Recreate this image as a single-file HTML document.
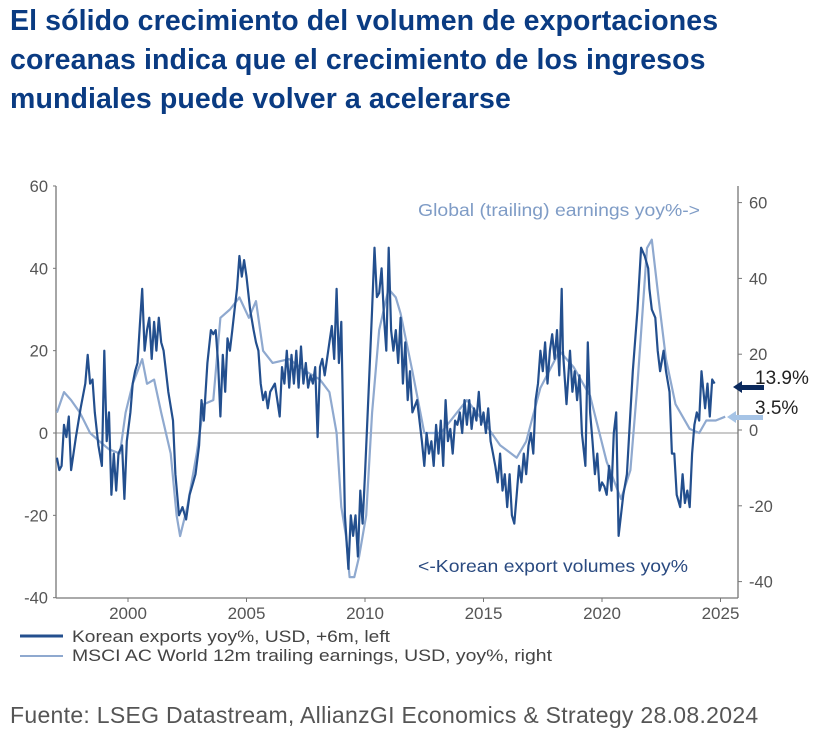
<!DOCTYPE html>
<html><head><meta charset="utf-8">
<style>
body{margin:0;background:#fff;width:837px;height:738px;overflow:hidden;font-family:"Liberation Sans",sans-serif;}
#title{position:absolute;left:10px;top:2px;font-size:28.5px;font-weight:bold;color:#0a3b82;line-height:39px;margin:0;letter-spacing:0.1px;}
#src{position:absolute;left:10px;top:702px;font-size:23px;color:#555;letter-spacing:0.3px;}
svg{position:absolute;left:0;top:0;}
</style></head><body>
<h1 id="title">El sólido crecimiento del volumen de exportaciones<br>coreanas indica que el crecimiento de los ingresos<br>mundiales puede volver a acelerarse</h1>
<div id="src">Fuente: LSEG Datastream, AllianzGI Economics &amp; Strategy 28.08.2024</div>
<svg id="chart" width="837" height="738"></svg>
<script>
const xTicks=[2000,2005,2010,2015,2020,2025];
const leftTicks=[60,40,20,0,-20,-40];
const rightTicks=[60,40,20,0,-20,-40];
const korDates=[1997.0,1997.1,1997.2,1997.3,1997.4,1997.5,1997.6,1997.7,1997.8,1998.0,1998.2,1998.3,1998.4,1998.5,1998.6,1998.75,1998.9,1999.0,1999.1,1999.2,1999.3,1999.4,1999.5,1999.6,1999.75,1999.85,1999.95,2000.1,2000.2,2000.3,2000.4,2000.5,2000.6,2000.7,2000.8,2000.9,2001.0,2001.1,2001.2,2001.3,2001.4,2001.5,2001.7,2001.9,2002.0,2002.15,2002.3,2002.45,2002.6,2002.75,2002.85,2003.0,2003.1,2003.2,2003.35,2003.5,2003.6,2003.7,2003.8,2003.9,2004.0,2004.1,2004.2,2004.3,2004.4,2004.5,2004.6,2004.7,2004.8,2004.9,2005.0,2005.15,2005.3,2005.4,2005.5,2005.6,2005.7,2005.8,2005.9,2006.0,2006.2,2006.3,2006.4,2006.5,2006.6,2006.7,2006.8,2006.9,2007.0,2007.1,2007.2,2007.3,2007.4,2007.5,2007.6,2007.7,2007.8,2007.9,2008.0,2008.1,2008.2,2008.3,2008.5,2008.6,2008.7,2008.8,2008.9,2009.0,2009.15,2009.3,2009.4,2009.5,2009.6,2009.7,2009.8,2009.9,2010.0,2010.15,2010.3,2010.4,2010.5,2010.6,2010.7,2010.8,2010.9,2011.0,2011.1,2011.2,2011.3,2011.4,2011.5,2011.6,2011.7,2011.8,2011.9,2012.0,2012.2,2012.4,2012.5,2012.6,2012.7,2012.8,2012.9,2013.0,2013.1,2013.2,2013.3,2013.4,2013.5,2013.6,2013.7,2013.8,2013.9,2014.0,2014.1,2014.2,2014.3,2014.4,2014.5,2014.6,2014.7,2014.8,2014.9,2015.0,2015.1,2015.2,2015.3,2015.4,2015.5,2015.6,2015.7,2015.8,2015.9,2016.0,2016.1,2016.2,2016.3,2016.4,2016.5,2016.6,2016.7,2016.8,2016.9,2017.0,2017.1,2017.2,2017.3,2017.4,2017.5,2017.6,2017.7,2017.8,2017.9,2018.0,2018.1,2018.2,2018.3,2018.35,2018.5,2018.65,2018.75,2018.85,2018.95,2019.05,2019.15,2019.3,2019.4,2019.5,2019.6,2019.7,2019.8,2019.9,2020.0,2020.1,2020.2,2020.3,2020.4,2020.5,2020.6,2020.7,2020.9,2021.05,2021.2,2021.3,2021.5,2021.65,2021.8,2021.95,2022.0,2022.1,2022.25,2022.35,2022.45,2022.6,2022.7,2022.85,2022.95,2023.05,2023.15,2023.3,2023.4,2023.5,2023.6,2023.7,2023.8,2023.9,2024.0,2024.1,2024.2,2024.35,2024.45,2024.55,2024.65,2024.75,2024.9,2025.0,2025.1,2025.2];
const korValues=[-6,-9,-8,2,-1,4,-9,-5,-1,6,12,19,12,13,5,-3,-8,20,-2,5,-15,-5,-14,-5,-3,-16,-2,5,12,15,17,26,35,20,25,28,18,27,20,28,22,20,10,3,-10,-20,-18,-21,-15,-12,-10,-3,8,3,17,25,24,25,17,4,19,10,23,20,25,30,35,43,38,42,38,30,25,22,20,12,8,10,6,10,12,8,4,16,12,20,11,19,12,20,11,21,12,17,11,14,12,16,-1,16,18,14,22,26,18,35,17,27,-20,-33,-20,-25,-20,-30,-14,-22,-10,10,30,45,33,34,40,28,20,45,25,20,25,17,28,12,22,8,15,5,8,-2,-8,0,-5,-2,-8,2,-5,3,-8,8,-2,1,-5,3,2,5,0,8,2,8,1,6,3,10,2,5,0,6,-2,-5,-8,-12,-5,-14,-10,-18,-10,-20,-22,-15,-8,-12,-5,-10,-3,0,-5,8,12,20,15,22,12,20,24,18,25,14,35,20,7,20,10,15,8,14,0,-8,22,5,-2,-10,-5,-14,-12,-13,-15,-8,-14,0,5,-25,-15,-10,5,15,30,45,43,40,35,30,28,20,15,20,15,10,-5,-5,-15,-18,-10,-17,-14,-18,-5,2,5,3,15,6,12,4,13,12];
const ernDates=[1997.0,1997.3,1997.6,1997.97,1998.4,1998.8,1999.2,1999.66,1999.9,2000.2,2000.6,2000.8,2001.1,2001.4,2001.8,2002.05,2002.2,2002.5,2002.9,2003.2,2003.6,2003.9,2004.3,2004.7,2005.1,2005.4,2005.7,2006.1,2006.8,2007.5,2008.1,2008.5,2008.8,2009.0,2009.2,2009.35,2009.55,2009.75,2010.05,2010.3,2010.6,2010.99,2011.3,2011.5,2012.0,2012.5,2013.2,2014.3,2015.1,2015.7,2016.4,2016.8,2017.4,2017.95,2018.2,2018.8,2019.5,2020.2,2020.8,2021.2,2021.5,2021.9,2022.1,2022.4,2022.7,2023.1,2023.7,2024.1,2024.4,2024.8,2025.2];
const ernValues=[4.6,10,7.9,4.6,-0.8,-3,-5.1,-6.2,4.6,12.2,18.7,12.2,13.3,4.6,-6.2,-22.5,-28,-20.3,-6.2,6.8,7.9,29.6,31.8,35,29.6,34,20.9,17.7,18.7,15.5,13.3,10,-0.8,-20.3,-28,-38.8,-38.8,-33.4,-22.5,4.6,26.4,37.2,35,30.7,15.5,-0.8,-0.8,7.9,1.4,-4,-7.3,-3,11.1,17.7,20.9,16.6,9,-8.4,-18.2,-10.6,12.2,48,50.2,34,18.7,6.8,0.3,-0.8,2.5,2.5,3.5];

const NS='http://www.w3.org/2000/svg';
const svg=document.getElementById('chart');
const X0=56,X1=738,TOP=186,BOT=598;
const xs=y=>128+(y-2000)*23.7;
const yl=v=>433-v*4.117;
const yr=v=>430-v*3.79;
function mk(tag,attrs,parent){const e=document.createElementNS(NS,tag);for(const k in attrs)e.setAttribute(k,attrs[k]);(parent||svg).appendChild(e);return e;}
function txt(s,attrs){const t=mk('text',attrs);t.textContent=s;return t;}

let e;
e=mk('line',{x1:X0,y1:yl(0),x2:X1,y2:yl(0),stroke:'#aaa','stroke-width':1.2});


e=mk('line',{x1:X0,y1:TOP,x2:X0,y2:BOT,stroke:'#777','stroke-width':1.3});


e=mk('line',{x1:X1,y1:TOP,x2:X1,y2:BOT,stroke:'#777','stroke-width':1.3});


e=mk('line',{x1:X0,y1:BOT,x2:X1,y2:BOT,stroke:'#777','stroke-width':1.3});



leftTicks.forEach(v=>{
  mk('line',{x1:X0-3,y1:yl(v),x2:X0,y2:yl(v),stroke:'#777'});
  e=txt(String(v),{x:X0-8,y:yl(v)+6,'text-anchor':'end','font-size':16.5,fill:'#555'});
  
  
});
rightTicks.forEach(v=>{
  mk('line',{x1:X1,y1:yr(v),x2:X1+4,y2:yr(v),stroke:'#777'});
  e=txt(String(v),{x:X1+11,y:yr(v)+6,'font-size':16.5,fill:'#555'});
  
  
});
xTicks.forEach(v=>{
  mk('line',{x1:xs(v),y1:BOT,x2:xs(v),y2:BOT+4,stroke:'#777'});
  e=txt(String(v),{x:xs(v),y:BOT+21,'text-anchor':'middle','font-size':17,fill:'#555'});
  
  
});

let d=ernDates.map((t,i)=>(i?'L':'M')+xs(t).toFixed(1)+' '+yr(ernValues[i]).toFixed(1)).join(' ');
e=mk('path',{d:d,fill:'none',stroke:'#8fa9cf','stroke-width':2.2,'stroke-linejoin':'round'});


d=korDates.map((t,i)=>(i?'L':'M')+xs(t).toFixed(1)+' '+yl(korValues[i]).toFixed(1)).join(' ');
e=mk('path',{d:d,fill:'none',stroke:'#234f8e','stroke-width':2.2,'stroke-linejoin':'round'});



e=txt('Global (trailing) earnings yoy%->',{x:418,y:216,'font-size':17.5,fill:'#7f9cc6',textLength:282,lengthAdjust:'spacingAndGlyphs'});


e=txt('<-Korean export volumes yoy%',{x:418,y:572,'font-size':17.5,fill:'#2a4a80',textLength:270,lengthAdjust:'spacingAndGlyphs'});



e=mk('path',{d:'M733 387 L742 381 L742 385 L764 385 L764 390 L742 390 L742 393 Z',fill:'#0b2a5e'});


e=txt('13.9%',{x:755,y:384,'font-size':19,fill:'#222'});


e=mk('path',{d:'M727 417 L736 411 L736 415 L763 415 L763 420 L736 420 L736 423 Z',fill:'#a6c4e6'});


e=txt('3.5%',{x:755,y:414,'font-size':19,fill:'#222'});



e=mk('line',{x1:20,y1:636,x2:63,y2:636,stroke:'#234f8e','stroke-width':3});


e=txt('Korean exports yoy%, USD, +6m, left',{x:72,y:642,'font-size':16.5,fill:'#444',textLength:318,lengthAdjust:'spacingAndGlyphs'});


e=mk('line',{x1:20,y1:656,x2:63,y2:656,stroke:'#8fa9cf','stroke-width':2});


e=txt('MSCI AC World 12m trailing earnings, USD, yoy%, right',{x:72,y:661,'font-size':16.5,fill:'#444',textLength:480,lengthAdjust:'spacingAndGlyphs'});


</script>
</body></html>
